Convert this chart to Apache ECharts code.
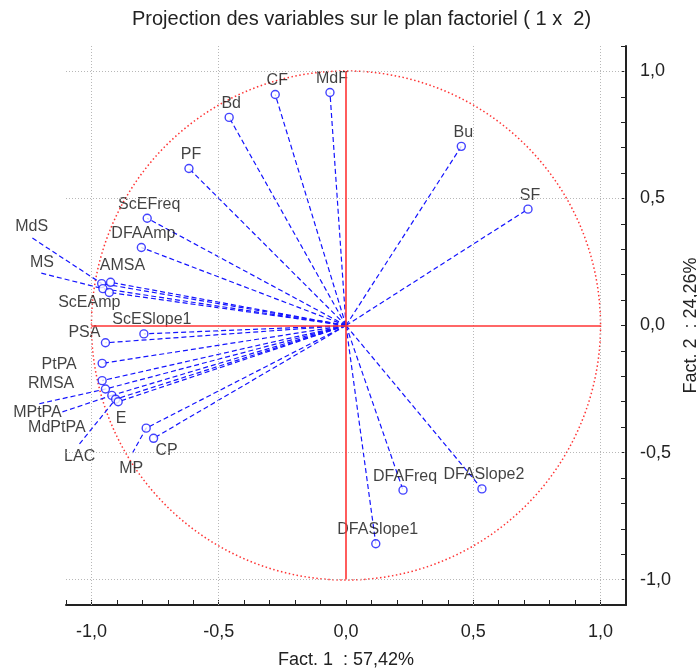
<!DOCTYPE html>
<html>
<head>
<meta charset="utf-8">
<script src="https://cdn.jsdelivr.net/npm/echarts@6/dist/echarts.min.js"></script>
<style>
  html, body { margin: 0; padding: 0; background: #fff; }
  #circleChart { width: 697px; height: 671px; }
</style>
</head>
<body>
<div id="circleChart"></div>
<script>
// variables and their coordinates on factor 1 and factor 2
var names = ['MdF', 'CF', 'Bd', 'PF', 'Bu', 'SF', 'ScEFreq', 'DFAAmp', 'MdS', 'MS', 'AMSA', 'ScEAmp',
             'ScESlope1', 'PSA', 'PtPA', 'RMSA', 'MPtPA', 'MdPtPA', 'LAC', 'E', 'MP', 'CP',
             'DFAFreq', 'DFASlope2', 'DFASlope1'];
var fact1 = [-0.063, -0.278, -0.459, -0.617, 0.453, 0.715, -0.781, -0.804, -0.960, -0.955, -0.925, -0.930,
             -0.794, -0.945, -0.958, -0.958, -0.945, -0.920, -0.905, -0.895, -0.785, -0.756,
             0.224, 0.534, 0.117];
var fact2 = [0.917, 0.909, 0.819, 0.618, 0.705, 0.458, 0.422, 0.307, 0.165, 0.145, 0.170, 0.130,
             -0.033, -0.068, -0.149, -0.217, -0.250, -0.275, -0.290, -0.300, -0.404, -0.444,
             -0.648, -0.643, -0.859];
var gridTicks = [-1, -0.5, 0.5, 1];

// where the displaced labels sit (end of leader line, in factor units)
var leaderEnds = {
  MdS: [-1.232, 0.344],
  MS: [-1.197, 0.206],
  MPtPA: [-1.205, -0.308],
  MdPtPA: [-1.114, -0.340],
  LAC: [-1.047, -0.466],
  MP: [-0.839, -0.502]
};

// label offsets in pixels from the marker
var labelOffsets = {
  MdS: [-70, -57], MS: [-61, -26], AMSA: [12, -17], ScEAmp: [-20, 10],
  ScESlope1: [8, -14], PSA: [-21, -10], PtPA: [-43, 1], RMSA: [-51, 3],
  MPtPA: [-68, 24], MdPtPA: [-55, 32], LAC: [-36, 57], E: [3, 17],
  MP: [-15, 40], CP: [13, 12]
};

var blue = '#1414ff';
var red = '#ff3434';
var font = 'Liberation Sans, Arial, sans-serif';

var points = names.map(function (n, i) {
  var off = labelOffsets[n] || [2, -14];
  return {
    name: n,
    value: [fact1[i], fact2[i]],
    label: { offset: off }
  };
});

var vectors = names.map(function (n, i) {
  return { coords: [[0, 0], [fact1[i], fact2[i]]] };
});

var leaders = Object.keys(leaderEnds).map(function (n) {
  var i = names.indexOf(n);
  return { coords: [leaderEnds[n], [fact1[i], fact2[i]]] };
});

function tickLabel(v) {
  if (Math.abs(v * 2 - Math.round(v * 2)) > 1e-6) return '';
  if (Math.abs(v) < 1e-6) return '0,0';
  return v.toFixed(1).replace('.', ',');
}

var axisCommon = {
  type: 'value',
  min: -1.1,
  max: 1.1,
  interval: 0.1,
  nameLocation: 'middle',
  nameTextStyle: { fontFamily: font, fontSize: 18, color: '#222' },
  axisLine: { show: true, onZero: false, lineStyle: { color: '#222', width: 2 } },
  axisTick: { show: true, inside: true, length: 5, lineStyle: { color: '#222' } },
  axisLabel: { formatter: tickLabel, fontFamily: font, fontSize: 18, color: '#222', margin: 14,
               showMinLabel: true, showMaxLabel: true },
  splitLine: { show: false }
};

var circleChart = echarts.init(document.getElementById('circleChart'));

var option = {
  backgroundColor: '#fff',
  animation: false,
  title: {
    text: 'Projection des variables sur le plan factoriel ( 1 x  2)',
    left: 127,
    top: 4,
    textStyle: { fontFamily: font, fontSize: 20, fontWeight: 'normal', color: '#222' }
  },
  grid: { left: 66, right: 71, top: 46, bottom: 66, outerBoundsMode: 'none', containLabel: false },
  xAxis: Object.assign({}, axisCommon, {
    position: 'bottom',
    name: 'Fact. 1  : 57,42%',
    nameGap: 46,
    axisLabel: Object.assign({}, axisCommon.axisLabel, { margin: 18 })
  }),
  yAxis: Object.assign({}, axisCommon, {
    position: 'right',
    name: 'Fact. 2  : 24,26%',
    nameRotate: 90,
    nameGap: 51
  }),
  series: [
    {
      // dotted grid
      type: 'scatter',
      data: [],
      silent: true,
      z: 1,
      markLine: {
        silent: true,
        symbol: 'none',
        label: { show: false },
        lineStyle: { color: '#b8b8b8', type: [1, 2], width: 1 },
        data: gridTicks.map(function (t) { return { xAxis: t }; })
          .concat(gridTicks.map(function (t) { return { yAxis: t }; }))
      }
    },
    {
      // unit circle and red axes
      type: 'custom',
      data: [[0, 0]],
      silent: true,
      z: 2,
      renderItem: function (params, api) {
        var c = api.coord([0, 0]);
        var s = api.size([1, 1]);
        return {
          type: 'circle',
          shape: { cx: c[0], cy: c[1], r: s[0] },
          style: { fill: 'none', stroke: red, lineWidth: 1.5, lineDash: [1.5, 2.5] }
        };
      },
      markLine: {
        silent: true,
        symbol: 'none',
        label: { show: false },
        lineStyle: { color: red, type: 'solid', width: 1.6 },
        data: [
          [{ coord: [-1, 0] }, { coord: [1, 0] }],
          [{ coord: [0, -1] }, { coord: [0, 1] }]
        ]
      }
    },
    {
      type: 'lines',
      coordinateSystem: 'cartesian2d',
      silent: true,
      z: 3,
      lineStyle: { color: blue, width: 1.2, type: [5, 3], opacity: 1 },
      data: vectors
    },
    {
      type: 'lines',
      coordinateSystem: 'cartesian2d',
      silent: true,
      clip: false,
      z: 3,
      lineStyle: { color: blue, width: 1.2, type: [5, 3], opacity: 1 },
      data: leaders
    },
    {
      type: 'scatter',
      clip: false,
      z: 4,
      symbol: 'circle',
      symbolSize: 8,
      itemStyle: { color: '#fff', borderColor: blue, borderWidth: 1.4 },
      label: {
        show: true,
        position: 'inside',
        formatter: '{b}',
        fontFamily: font,
        fontSize: 16,
        color: '#111'
      },
      data: points
    }
  ]
};

circleChart.setOption(option);
</script>
</body>
</html>
